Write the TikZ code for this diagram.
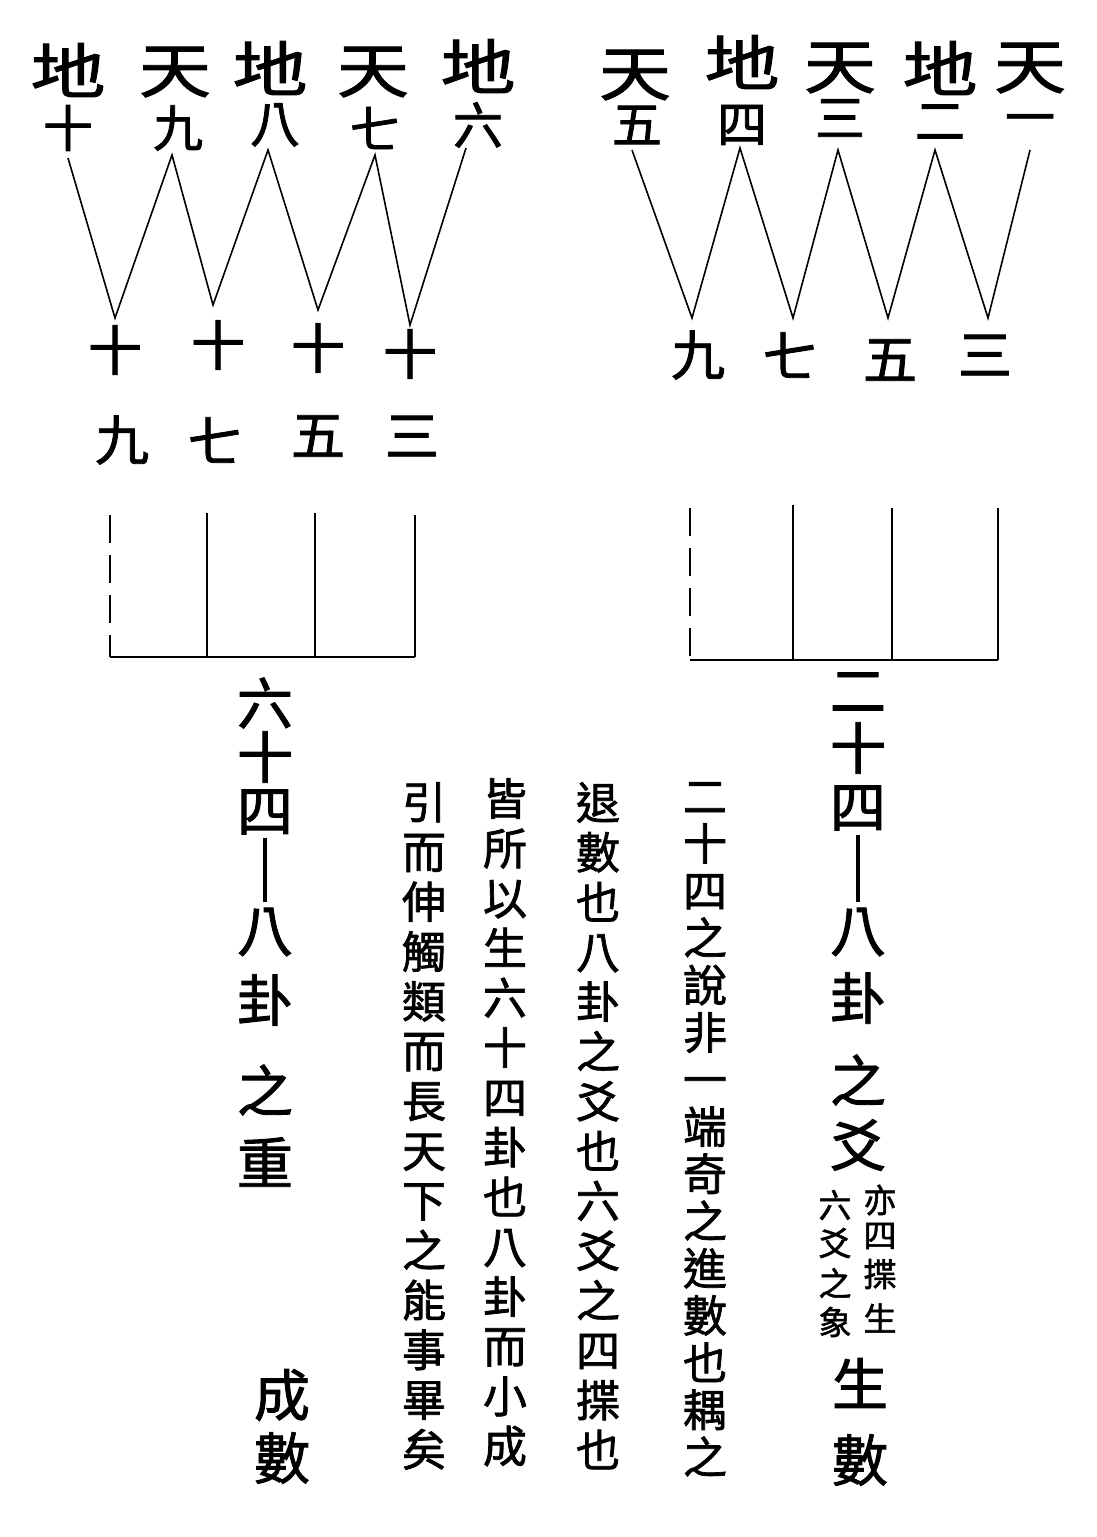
\documentclass[tikz,border=0pt]{standalone}
\usepackage{fontspec}
\newfontfamily\cjk[FakeBold=1.6]{Noto Sans CJK TC}
\begin{document}
\begin{tikzpicture}[x=1pt,y=-1pt,
  topc/.style={font=\cjk\fontsize{60}{60}\selectfont, inner sep=0},
  subc/.style={font=\cjk\fontsize{50}{50}\selectfont, inner sep=0},
  numc/.style={font=\cjk\fontsize{54}{54}\selectfont, inner sep=0},
  bigc/.style={font=\cjk\fontsize{56}{56}\selectfont, inner sep=0},
  smallc/.style={font=\cjk\fontsize{33}{33}\selectfont, inner sep=0},
  colc/.style={font=\cjk\fontsize{44}{49.8}\selectfont, align=center, inner sep=0, anchor=north},
  zig/.style={line width=1.6pt},
  bar/.style={line width=2pt},
  brokenbar/.style={line width=1.5pt, dash pattern=on 28pt off 12pt}]
\useasboundingbox (0,0) rectangle (1096,1537);
\fill[white] (0,0) rectangle (1096,1537);

% ---- top labels, left group ----
\node[topc] (L1a) at (68,70) {\scalebox{1.25}[1]{地}};
\node[subc] (L1b) at (68,128) {十};
\node[topc] (L2a) at (175,72) {\scalebox{1.2}[1]{天}};
\node[subc] (L2b) at (178,128) {九};
\node[topc] (L3a) at (270,68) {\scalebox{1.25}[1]{地}};
\node[subc] (L3b) at (275,125) {八};
\node[topc] (L4a) at (373,72) {\scalebox{1.2}[1]{天}};
\node[subc] (L4b) at (375,128) {七};
\node[topc] (L5a) at (478,66) {\scalebox{1.25}[1]{地}};
\node[subc] (L5b) at (478,125) {六};

% ---- top labels, right group ----
\node[topc] (R5a) at (635,75) {\scalebox{1.2}[1]{天}};
\node[subc] (R5b) at (637,125) {五};
\node[topc] (R4a) at (742,62) {\scalebox{1.25}[1]{地}};
\node[subc] (R4b) at (742,125) {四};
\node[topc] (R3a) at (840,68) {\scalebox{1.2}[1]{天}};
\node[subc] (R3b) at (840,118) {三};
\node[topc] (R2a) at (940,68) {\scalebox{1.25}[1]{地}};
\node[subc] (R2b) at (940,122) {二};
\node[topc] (R1a) at (1030,68) {\scalebox{1.2}[1]{天}};
\node[subc] (R1b) at (1030,125) {一};

% ---- zigzag, left ----
\coordinate (lt1) at (68,158);  \coordinate (lb1) at (115,318);
\coordinate (lt2) at (172,155); \coordinate (lb2) at (213,305);
\coordinate (lt3) at (268,150); \coordinate (lb3) at (318,310);
\coordinate (lt4) at (375,155); \coordinate (lb4) at (410,325);
\coordinate (lt5) at (466,148);
\draw[zig] (lt1) -- (lb1) -- (lt2) -- (lb2) -- (lt3) -- (lb3) -- (lt4) -- (lb4) -- (lt5);

% ---- zigzag, right ----
\coordinate (rt1) at (632,150); \coordinate (rb1) at (692,318);
\coordinate (rt2) at (740,148); \coordinate (rb2) at (793,318);
\coordinate (rt3) at (838,150); \coordinate (rb3) at (888,318);
\coordinate (rt4) at (935,150); \coordinate (rb4) at (988,318);
\coordinate (rt5) at (1030,150);
\draw[zig] (rt1) -- (rb1) -- (rt2) -- (rb2) -- (rt3) -- (rb3) -- (rt4) -- (rb4) -- (rt5);

% ---- sums, left ----
\node[numc] (ls1a) at (115,350) {十};
\node[numc] (ls2a) at (218,345) {十};
\node[numc] (ls3a) at (318,348) {十};
\node[numc] (ls4a) at (410,354) {十};
\node[numc] (ls1b) at (122,440) {九};
\node[numc] (ls2b) at (215,440) {七};
\node[numc] (ls3b) at (318,436) {五};
\node[numc] (ls4b) at (412,436) {三};

% ---- sums, right ----
\node[numc] (rs1) at (698,355) {九};
\node[numc] (rs2) at (790,355) {七};
\node[numc] (rs3) at (890,360) {五};
\node[numc] (rs4) at (985,355) {三};

% ---- brackets ----
\coordinate (lk1t) at (110,515); \coordinate (lk1b) at (110,657);
\coordinate (lk2t) at (207,513); \coordinate (lk2b) at (207,657);
\coordinate (lk3t) at (315,513); \coordinate (lk3b) at (315,657);
\coordinate (lk4t) at (415,515); \coordinate (lk4b) at (415,657);
\draw[brokenbar] (lk1t) -- (lk1b);
\draw[bar] (lk2t) -- (lk2b);
\draw[bar] (lk3t) -- (lk3b);
\draw[bar] (lk4t) -- (lk4b);
\draw[bar] (lk1b) -- (lk4b);

\coordinate (rk1t) at (690,508); \coordinate (rk1b) at (690,660);
\coordinate (rk2t) at (793,505); \coordinate (rk2b) at (793,660);
\coordinate (rk3t) at (892,508); \coordinate (rk3b) at (892,660);
\coordinate (rk4t) at (998,508); \coordinate (rk4b) at (998,660);
\draw[brokenbar] (rk1t) -- (rk1b);
\draw[bar] (rk2t) -- (rk2b);
\draw[bar] (rk3t) -- (rk3b);
\draw[bar] (rk4t) -- (rk4b);
\draw[bar] (rk1b) -- (rk4b);

% ---- left big column ----
\node[bigc] (lc1) at (265,703) {六};
\node[bigc] (lc2) at (265,757) {十};
\node[bigc] (lc3) at (265,812) {四};
\coordinate (lline1) at (265,838);
\coordinate (lline2) at (265,902);
\draw[line width=3.5pt] (lline1) -- (lline2);
\node[bigc] (lc4) at (265,932) {八};
\node[bigc] (lc5) at (265,1000) {卦};
\node[bigc] (lc6) at (265,1090) {之};
\node[bigc] (lc7) at (265,1162) {重};

% ---- right big column ----
\node[bigc] (rc1) at (858,692) {二};
\node[bigc] (rc2) at (858,748) {十};
\node[bigc] (rc3) at (858,808) {四};
\coordinate (rline1) at (858,835);
\coordinate (rline2) at (858,902);
\draw[line width=3.5pt] (rline1) -- (rline2);
\node[bigc] (rc4) at (858,932) {八};
\node[bigc] (rc5) at (858,998) {卦};
\node[bigc] (rc6) at (858,1080) {之};
\node[bigc] (rc7) at (858,1145) {爻};
\node[smallc] (sa1) at (880,1200) {亦};
\node[smallc] (sa2) at (880,1236) {四};
\node[smallc] (sa3) at (880,1274) {揲};
\node[smallc] (sa4) at (880,1318) {生};
\node[smallc] (sb1) at (835,1205) {六};
\node[smallc] (sb2) at (835,1243) {爻};
\node[smallc] (sb3) at (835,1283) {之};
\node[smallc] (sb4) at (835,1322) {象};
\node[bigc] (rc8) at (860,1383) {生};
\node[bigc] (rc9) at (860,1460) {數};

% ---- bottom-left ----
\node[bigc] (cs1) at (282,1395) {成};
\node[bigc] (cs2) at (282,1458) {數};

% ---- commentary columns ----
\node[colc, font=\cjk\fontsize{44}{47.2}\selectfont] (t1) at (705,782) {二\\十\\四\\之\\說\\非\\一\\端\\奇\\之\\進\\數\\也\\耦\\之};
\node[colc] (t2) at (598,782) {退\\數\\也\\八\\卦\\之\\爻\\也\\六\\爻\\之\\四\\揲\\也};
\node[colc] (t3) at (505,778) {皆\\所\\以\\生\\六\\十\\四\\卦\\也\\八\\卦\\而\\小\\成};
\node[colc] (t4) at (424,782) {引\\而\\伸\\觸\\類\\而\\長\\天\\下\\之\\能\\事\\畢\\矣};
\end{tikzpicture}
\end{document}
